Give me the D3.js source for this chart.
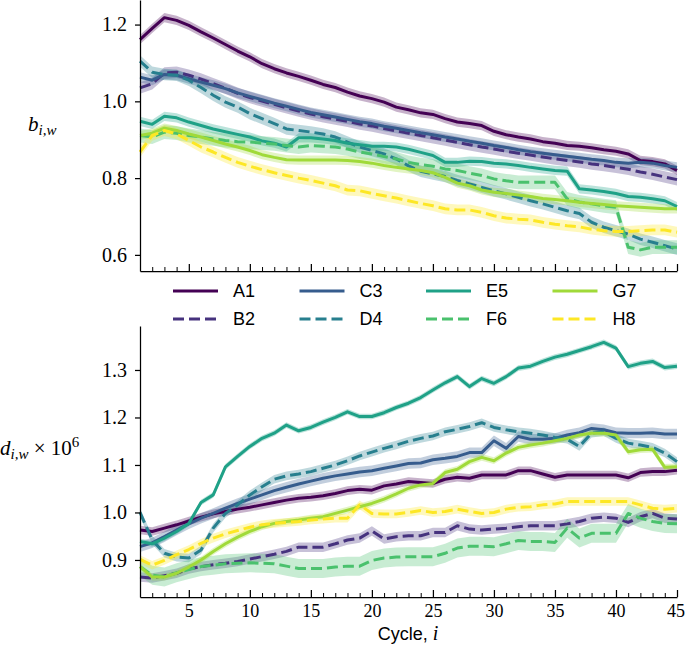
<!DOCTYPE html>
<html>
<head>
<meta charset="utf-8">
<script src="https://cdn.jsdelivr.net/npm/d3@7"></script>
<style>
  body { margin: 0; background: #fff; }
  svg { display: block; }
</style>
</head>
<body>
<svg></svg>
<script>
const width = 685;
const height = 652;

// cycle index on the x axis
const cycles = d3.range(1, 46);
const xTicks = [5, 10, 15, 20, 25, 30, 35, 40, 45];
const yTicksTop = [0.6, 0.8, 1.0, 1.2];
const yTicksBottom = [0.9, 1.0, 1.1, 1.2, 1.3];

const names = ["A1", "B2", "C3", "D4", "E5", "F6", "G7", "H8"];
const dashed = [false, true, false, true, false, true, false, true];

// top panel: b_{i,w}
const bA1 = [1.161, 1.19, 1.218, 1.211, 1.198, 1.181, 1.165, 1.148, 1.131, 1.116,
  1.098, 1.085, 1.074, 1.065, 1.055, 1.044, 1.036, 1.024, 1.014, 1.007,
  0.998, 0.985, 0.978, 0.970, 0.966, 0.955, 0.946, 0.942, 0.937, 0.922,
  0.913, 0.907, 0.902, 0.895, 0.891, 0.885, 0.883, 0.879, 0.874, 0.870,
  0.863, 0.846, 0.843, 0.837, 0.820];
const bB2 = [1.035, 1.046, 1.074, 1.076, 1.068, 1.058, 1.046, 1.034, 1.021, 1.010,
  1.001, 0.992, 0.983, 0.975, 0.967, 0.960, 0.954, 0.948, 0.941, 0.936,
  0.929, 0.923, 0.917, 0.911, 0.905, 0.899, 0.893, 0.887, 0.881, 0.876,
  0.870, 0.865, 0.860, 0.855, 0.850, 0.846, 0.842, 0.837, 0.833, 0.828,
  0.823, 0.816, 0.810, 0.803, 0.796];
const bC3 = [1.063, 1.055, 1.070, 1.068, 1.059, 1.050, 1.042, 1.033, 1.022, 1.013,
  1.004, 0.995, 0.987, 0.979, 0.971, 0.965, 0.959, 0.953, 0.947, 0.942,
  0.935, 0.930, 0.924, 0.918, 0.913, 0.907, 0.902, 0.896, 0.891, 0.885,
  0.880, 0.874, 0.869, 0.865, 0.861, 0.857, 0.853, 0.849, 0.846, 0.841,
  0.839, 0.841, 0.839, 0.833, 0.828];
const bD4 = [1.105, 1.076, 1.070, 1.068, 1.055, 1.036, 1.016, 0.998, 0.985, 0.968,
  0.955, 0.942, 0.928, 0.924, 0.920, 0.915, 0.907, 0.894, 0.881, 0.872,
  0.863, 0.850, 0.832, 0.818, 0.811, 0.804, 0.794, 0.785, 0.776, 0.767,
  0.759, 0.750, 0.741, 0.733, 0.724, 0.715, 0.708, 0.685, 0.672, 0.663,
  0.654, 0.641, 0.633, 0.624, 0.615];
const bE5 = [0.948, 0.940, 0.961, 0.957, 0.946, 0.937, 0.928, 0.921, 0.914, 0.907,
  0.897, 0.891, 0.881, 0.905, 0.905, 0.902, 0.898, 0.891, 0.887, 0.883,
  0.883, 0.881, 0.875, 0.867, 0.859, 0.841, 0.841, 0.844, 0.843, 0.839,
  0.837, 0.833, 0.828, 0.824, 0.820, 0.818, 0.772, 0.769, 0.765, 0.760,
  0.752, 0.750, 0.746, 0.741, 0.726];
const bF6 = [0.911, 0.907, 0.920, 0.917, 0.911, 0.907, 0.902, 0.898, 0.895, 0.894,
  0.891, 0.889, 0.885, 0.881, 0.885, 0.883, 0.881, 0.876, 0.868, 0.863,
  0.856, 0.850, 0.841, 0.835, 0.831, 0.824, 0.820, 0.813, 0.807, 0.798,
  0.793, 0.789, 0.789, 0.789, 0.789, 0.746, 0.738, 0.733, 0.728, 0.724,
  0.620, 0.613, 0.620, 0.620, 0.620];
const bG7 = [0.911, 0.917, 0.930, 0.924, 0.915, 0.907, 0.898, 0.889, 0.881, 0.872,
  0.861, 0.854, 0.848, 0.847, 0.847, 0.847, 0.847, 0.846, 0.843, 0.839,
  0.833, 0.828, 0.824, 0.820, 0.814, 0.802, 0.787, 0.780, 0.769, 0.763,
  0.760, 0.756, 0.752, 0.747, 0.744, 0.741, 0.737, 0.734, 0.731, 0.728,
  0.726, 0.724, 0.722, 0.720, 0.720];
const bH8 = [0.868, 0.911, 0.924, 0.915, 0.898, 0.881, 0.868, 0.854, 0.841, 0.831,
  0.822, 0.814, 0.807, 0.800, 0.794, 0.787, 0.780, 0.769, 0.767, 0.760,
  0.754, 0.748, 0.741, 0.734, 0.728, 0.720, 0.717, 0.717, 0.711, 0.702,
  0.696, 0.693, 0.691, 0.685, 0.680, 0.676, 0.673, 0.667, 0.663, 0.661,
  0.661, 0.663, 0.665, 0.665, 0.659];

// bottom panel: d_{i,w} x 10^6
const dA1 = [0.963, 0.960, 0.967, 0.974, 0.982, 0.990, 0.997, 1.002, 1.007, 1.011,
  1.016, 1.021, 1.026, 1.030, 1.032, 1.035, 1.040, 1.046, 1.049, 1.047,
  1.056, 1.060, 1.065, 1.063, 1.061, 1.070, 1.074, 1.072, 1.079, 1.079,
  1.079, 1.088, 1.088, 1.081, 1.074, 1.079, 1.079, 1.079, 1.079, 1.079,
  1.073, 1.084, 1.086, 1.086, 1.089];
const dB2 = [0.864, 0.862, 0.867, 0.872, 0.881, 0.886, 0.890, 0.893, 0.897, 0.902,
  0.907, 0.912, 0.918, 0.927, 0.927, 0.927, 0.934, 0.942, 0.946, 0.961,
  0.944, 0.949, 0.951, 0.951, 0.958, 0.958, 0.972, 0.965, 0.963, 0.965,
  0.967, 0.970, 0.972, 0.972, 0.972, 0.976, 0.981, 0.988, 0.990, 0.988,
  0.979, 0.991, 0.998, 0.988, 0.986];
const dC3 = [0.928, 0.936, 0.949, 0.963, 0.976, 0.988, 0.998, 1.009, 1.019, 1.028,
  1.037, 1.046, 1.053, 1.060, 1.066, 1.072, 1.077, 1.081, 1.085, 1.088,
  1.093, 1.098, 1.103, 1.104, 1.111, 1.114, 1.118, 1.126, 1.126, 1.151,
  1.135, 1.160, 1.154, 1.154, 1.156, 1.163, 1.168, 1.177, 1.174, 1.168,
  1.167, 1.167, 1.168, 1.165, 1.165];
const dD4 = [1.000, 0.942, 0.914, 0.906, 0.904, 0.921, 0.967, 0.998, 1.016, 1.037,
  1.054, 1.070, 1.077, 1.081, 1.086, 1.093, 1.100, 1.109, 1.119, 1.127,
  1.135, 1.142, 1.150, 1.156, 1.161, 1.170, 1.175, 1.181, 1.189, 1.179,
  1.174, 1.170, 1.167, 1.163, 1.158, 1.154, 1.139, 1.167, 1.170, 1.156,
  1.146, 1.142, 1.137, 1.125, 1.107];
const dE5 = [0.939, 0.934, 0.946, 0.960, 0.977, 1.021, 1.037, 1.096, 1.118, 1.139,
  1.156, 1.167, 1.184, 1.172, 1.179, 1.190, 1.200, 1.212, 1.202, 1.202,
  1.210, 1.221, 1.230, 1.242, 1.258, 1.273, 1.286, 1.265, 1.282, 1.272,
  1.286, 1.304, 1.308, 1.318, 1.327, 1.333, 1.341, 1.349, 1.358, 1.346,
  1.307, 1.314, 1.318, 1.305, 1.308];
const dF6 = [0.886, 0.868, 0.864, 0.873, 0.880, 0.886, 0.889, 0.892, 0.893, 0.894,
  0.893, 0.892, 0.887, 0.882, 0.882, 0.882, 0.885, 0.887, 0.887, 0.899,
  0.904, 0.906, 0.907, 0.907, 0.907, 0.914, 0.925, 0.929, 0.929, 0.928,
  0.934, 0.941, 0.939, 0.939, 0.937, 0.967, 0.946, 0.956, 0.956, 0.956,
  0.998, 0.988, 0.981, 0.977, 0.976];
const dG7 = [0.886, 0.864, 0.864, 0.872, 0.885, 0.900, 0.918, 0.934, 0.948, 0.960,
  0.970, 0.977, 0.981, 0.984, 0.988, 0.991, 0.998, 1.005, 1.012, 1.019,
  1.028, 1.039, 1.051, 1.058, 1.061, 1.084, 1.091, 1.107, 1.116, 1.109,
  1.125, 1.137, 1.142, 1.146, 1.151, 1.156, 1.163, 1.167, 1.167, 1.163,
  1.128, 1.132, 1.133, 1.095, 1.096];
const dH8 = [0.901, 0.889, 0.899, 0.911, 0.922, 0.935, 0.946, 0.955, 0.962, 0.969,
  0.974, 0.977, 0.979, 0.981, 0.984, 0.986, 0.988, 0.988, 1.016, 0.998,
  0.997, 0.997, 1.000, 1.004, 1.000, 1.002, 1.007, 1.002, 0.998, 1.000,
  1.007, 1.011, 1.012, 1.016, 1.018, 1.023, 1.023, 1.023, 1.023, 1.023,
  1.023, 1.016, 1.009, 1.007, 1.009];

// half-width of the shaded band per series
const bandTop = [0.012, 0.015, 0.013, 0.015, 0.012, 0.018, 0.012, 0.014];
const bandBottom = [0.009, 0.010, 0.011, 0.009, 0.006, 0.020, 0.007, 0.009];

const topSeries = [bA1, bB2, bC3, bD4, bE5, bF6, bG7, bH8];
const bottomSeries = [dA1, dB2, dC3, dD4, dE5, dF6, dG7, dH8];

const colors = names.map((d, i) => d3.interpolateViridis(i / 7));

const serif = "'Liberation Serif', 'Times New Roman', serif";
const sans = "'Liberation Sans', Arial, sans-serif";

const svg = d3.select("svg").attr("width", width).attr("height", height);

const x = d3.scaleLinear().domain([1, 45]).range([140, 677]);
const yTop = d3.scaleLinear().domain([0.558, 1.264]).range([271, 0]);
const yBottom = d3.scaleLinear().domain([0.822, 1.3926]).range([597, 326]);

function drawPanel(y, series, bands, yTicks, showLabels) {
  const g = svg.append("g");

  // shaded bands first, lines on top
  series.forEach((vals, i) => {
    const area = d3.area()
      .x((d, j) => x(cycles[j]))
      .y0((d) => y(d - bands[i]))
      .y1((d) => y(d + bands[i]));
    g.append("path")
      .attr("d", area(vals))
      .attr("fill", colors[i])
      .attr("fill-opacity", 0.3)
      .attr("stroke", "none");
  });

  series.forEach((vals, i) => {
    const line = d3.line()
      .x((d, j) => x(cycles[j]))
      .y((d) => y(d));
    g.append("path")
      .attr("d", line(vals))
      .attr("fill", "none")
      .attr("stroke", colors[i])
      .attr("stroke-width", 3)
      .attr("stroke-dasharray", dashed[i] ? "11,5" : null)
      .attr("stroke-linejoin", "round");
  });

  const yMin = y.range()[0];

  // y axis
  const yAxis = svg.append("g")
    .attr("transform", `translate(${x(1)},0)`)
    .call(d3.axisLeft(y).tickValues(yTicks).tickFormat(d3.format(".1f"))
      .tickSize(5).tickSizeOuter(0).tickPadding(8));
  yAxis.attr("font-family", serif).attr("font-size", 20);
  yAxis.selectAll("line, path").attr("stroke", "#000").attr("stroke-width", 1.25);
  yAxis.selectAll("text").attr("fill", "#000");

  // minor ticks on x
  const xMinor = svg.append("g")
    .attr("transform", `translate(0,${yMin})`)
    .call(d3.axisBottom(x).tickValues(cycles.filter((c) => c % 5 !== 0))
      .tickSize(-4).tickSizeOuter(0).tickFormat(""));
  xMinor.select(".domain").remove();
  xMinor.selectAll("line").attr("stroke", "#000").attr("stroke-width", 1);

  // major ticks on x
  const xAxis = svg.append("g")
    .attr("transform", `translate(0,${yMin})`)
    .call(d3.axisBottom(x).tickValues(xTicks)
      .tickSize(-7).tickSizeOuter(0).tickPadding(7)
      .tickFormat(showLabels ? d3.format("d") : ""));
  xAxis.attr("font-family", serif).attr("font-size", 18);
  xAxis.selectAll("line, path").attr("stroke", "#000").attr("stroke-width", 1.25);
  xAxis.selectAll("text").attr("fill", "#000");
  // keep the last label inside the window
  xAxis.selectAll("text").filter((d) => d === 45).attr("dx", -1.5);
}

drawPanel(yTop, topSeries, bandTop, yTicksTop, false);
drawPanel(yBottom, bottomSeries, bandBottom, yTicksBottom, true);

// y labels
const bLabel = svg.append("text")
  .attr("x", 28).attr("y", 131)
  .attr("font-family", serif).attr("font-size", 21);
bLabel.append("tspan").attr("font-style", "italic").text("b");
bLabel.append("tspan").attr("font-style", "italic").attr("font-size", 15)
  .attr("dy", 4).text("i,w");

const dLabel = svg.append("text")
  .attr("x", 0).attr("y", 455)
  .attr("font-family", serif).attr("font-size", 21);
dLabel.append("tspan").attr("font-style", "italic").text("d");
dLabel.append("tspan").attr("font-style", "italic").attr("font-size", 15)
  .attr("dy", 4).text("i,w");
dLabel.append("tspan").attr("dy", -4).text(" \u00d7 10");
dLabel.append("tspan").attr("font-size", 15).attr("dy", -8).text("6");

// x label
const xLabel = svg.append("text")
  .attr("x", 408).attr("y", 640)
  .attr("text-anchor", "middle")
  .attr("font-family", sans).attr("font-size", 18);
xLabel.append("tspan").text("Cycle, ");
xLabel.append("tspan").attr("font-family", serif).attr("font-style", "italic")
  .attr("font-size", 20).text("i");

// legend, 4 columns x 2 rows
const legendX = [173, 299.5, 426, 552.5];
const legendY = [291, 319];
const legend = svg.selectAll(".legend")
  .data(names)
  .join("g")
  .attr("class", "legend")
  .attr("transform", (d, i) =>
    `translate(${legendX[Math.floor(i / 2)]},${legendY[i % 2]})`);

legend.append("line")
  .attr("x1", 0).attr("x2", 45)
  .attr("y1", 0).attr("y2", 0)
  .attr("stroke", (d, i) => colors[i])
  .attr("stroke-width", 3)
  .attr("stroke-dasharray", (d, i) => (dashed[i] ? "11,5" : null));

legend.append("text")
  .attr("x", 60).attr("y", 0)
  .attr("dy", "0.36em")
  .attr("font-family", sans).attr("font-size", 18)
  .attr("fill", "#000")
  .text((d) => d);
</script>
</body>
</html>
